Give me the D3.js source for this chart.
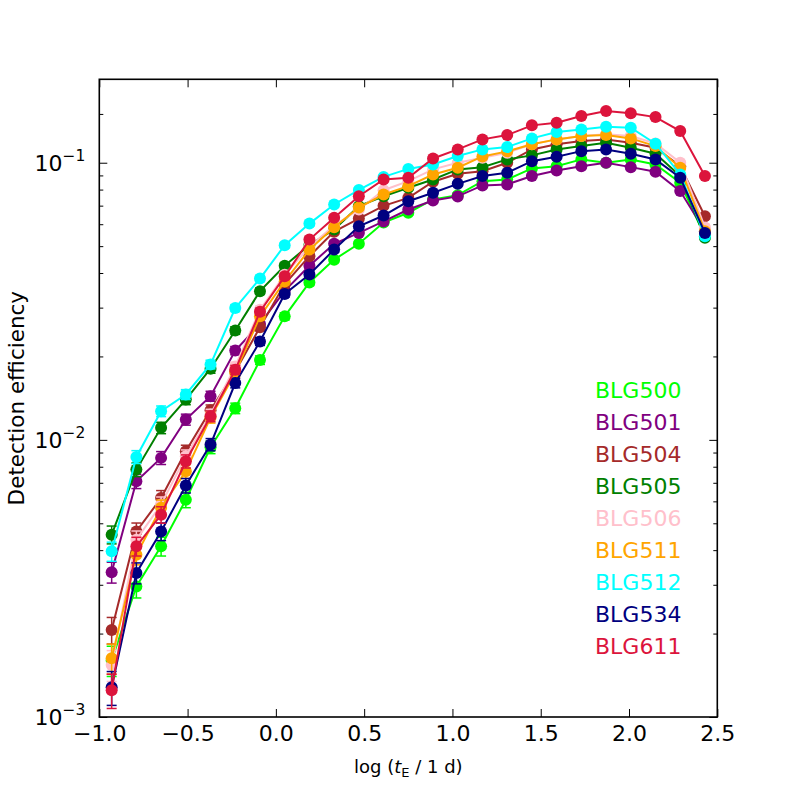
<!DOCTYPE html>
<html><head><meta charset="utf-8">
<script src="https://cdn.jsdelivr.net/npm/d3@7"></script>
<style>body{margin:0;background:#fff}svg{display:block}</style>
</head><body>
<svg id="chart" width="797" height="797"></svg>
<script>
const logTE = [-0.93,-0.79,-0.65,-0.51,-0.37,-0.23,-0.09,0.05,0.19,0.33,0.47,0.61,0.75,0.89,1.03,1.17,1.31,1.45,1.59,1.73,1.87,2.01,2.15,2.29,2.43];
const seriesNames = ["BLG500","BLG501","BLG504","BLG505","BLG506","BLG511","BLG512","BLG534","BLG611"];
const seriesColors = ["#00ff00","#800080","#a52a2a","#008000","#ffc0cb","#ffa500","#00ffff","#000080","#dc143c"];
const effBLG500 = [0.0016,0.00296,0.00413,0.00608,0.0094,0.0130,0.0194,0.0279,0.0370,0.0447,0.0510,0.0608,0.0660,0.0737,0.0764,0.0858,0.0870,0.0954,0.0972,0.1028,0.1000,0.1028,0.0986,0.0847,0.0543];
const effBLG501 = [0.00333,0.00709,0.00861,0.01184,0.01438,0.0210,0.0262,0.0345,0.0425,0.0510,0.0558,0.0614,0.0678,0.0731,0.0756,0.0828,0.0835,0.0895,0.0938,0.0972,0.1000,0.0964,0.0928,0.0790,0.0566];
const effBLG504 = [0.00206,0.00467,0.00617,0.00909,0.0128,0.01765,0.0255,0.0365,0.0460,0.0564,0.0629,0.0699,0.0747,0.0854,0.0913,0.0932,0.1000,0.1117,0.1165,0.1197,0.1214,0.1181,0.1133,0.0972,0.0641];
const effBLG505 = [0.00455,0.00781,0.01105,0.01398,0.01806,0.0248,0.0344,0.0425,0.0505,0.0574,0.0697,0.0757,0.0812,0.0870,0.0946,0.0964,0.1028,0.1063,0.1117,0.1148,0.1181,0.1133,0.1078,0.0895,0.0536];
const effBLG506 = [0.00154,0.00436,0.00584,0.00873,0.01234,0.0184,0.0295,0.0394,0.0498,0.0593,0.0678,0.0796,0.0858,0.0946,0.1000,0.1043,0.1087,0.1165,0.1214,0.1248,0.1266,0.1248,0.1174,0.1000,0.0584];
const effBLG511 = [0.00163,0.00385,0.00569,0.0077,0.01204,0.01746,0.0279,0.0373,0.0486,0.0585,0.0689,0.0768,0.0823,0.0907,0.0959,0.1054,0.1099,0.1165,0.1214,0.1248,0.1258,0.1224,0.1148,0.0959,0.0566];
const effBLG512 = [0.00396,0.00868,0.01269,0.01458,0.01871,0.0299,0.0382,0.0504,0.0603,0.0707,0.0798,0.0889,0.0950,0.0986,0.1057,0.1117,0.1139,0.1224,0.1290,0.1319,0.1349,0.1338,0.1171,0.0907,0.0543];
const effBLG534 = [0.00128,0.00331,0.00467,0.00684,0.00962,0.01603,0.02266,0.0336,0.0395,0.0486,0.0590,0.0645,0.0726,0.0779,0.0839,0.0895,0.0920,0.1013,0.1051,0.1101,0.1117,0.1078,0.1028,0.0883,0.0558];
const effBLG611 = [0.00125,0.00413,0.00537,0.00837,0.01217,0.0179,0.0290,0.0389,0.0528,0.0633,0.0757,0.0870,0.0883,0.1036,0.1117,0.1214,0.1258,0.1364,0.1395,0.1474,0.1537,0.1507,0.1461,0.1301,0.0895];
const simulatedEventsPerBin = 40000;
const xTickValues = [-1,-0.5,0,0.5,1,1.5,2,2.5];
const xTickLabels = ["\u22121.0","\u22120.5","0.0","0.5","1.0","1.5","2.0","2.5"];
const yTickValues = [1e-3,1e-2,1e-1];
const yTickExponents = ["\u22123","\u22122","\u22121"];
const yMinorTicks = [2e-3,3e-3,4e-3,5e-3,6e-3,7e-3,8e-3,9e-3,2e-2,3e-2,4e-2,5e-2,6e-2,7e-2,8e-2,9e-2,0.15];

const allEff = [effBLG500,effBLG501,effBLG504,effBLG505,effBLG506,effBLG511,effBLG512,effBLG534,effBLG611];

const L = 99.3, R = 717.3, T = 79.3, B = 717;
const FONT = "DejaVu Sans, Verdana, sans-serif";
const svg = d3.select("#chart");
svg.append("rect").attr("width",797).attr("height",797).attr("fill","#fff");

const x = d3.scaleLinear().domain([-1, 2.5]).range([L, R]);
const y = d3.scaleLog().domain([1e-3, 0.2]).range([B, T]);

const line = d3.line().x(d => x(d.x)).y(d => y(d.v));

allEff.forEach((vals, si) => {
  const col = seriesColors[si];
  const pts = logTE.map((t, i) => {
    const p = vals[i];
    const e = Math.sqrt(p * (1 - p) / simulatedEventsPerBin);
    return {x: t, v: p, lo: p - e, hi: p + e};
  });
  const g = svg.append("g");
  const eb = g.append("g").attr("stroke", col).attr("stroke-width", 1.5);
  pts.forEach(d => {
    const cx = x(d.x);
    eb.append("line").attr("x1", cx).attr("x2", cx).attr("y1", y(d.lo)).attr("y2", y(d.hi));
    eb.append("line").attr("x1", cx - 5).attr("x2", cx + 5).attr("y1", y(d.lo)).attr("y2", y(d.lo));
    eb.append("line").attr("x1", cx - 5).attr("x2", cx + 5).attr("y1", y(d.hi)).attr("y2", y(d.hi));
  });
  g.append("path").datum(pts).attr("d", line).attr("fill", "none").attr("stroke", col).attr("stroke-width", 2);
  g.selectAll("circle").data(pts).join("circle")
    .attr("cx", d => x(d.x)).attr("cy", d => y(d.v)).attr("r", 6).attr("fill", col);
});

// axes
function styleAxis(g){
  g.select(".domain").remove();
  g.selectAll(".tick line").attr("stroke","#000").attr("stroke-width",1);
  g.selectAll("text").attr("font-family",FONT).attr("fill","#000");
}
const xb = svg.append("g").attr("transform",`translate(0,${B})`)
  .call(d3.axisBottom(x).tickValues(xTickValues).tickSize(-8).tickPadding(8.5).tickFormat((d,i)=>xTickLabels[i]));
styleAxis(xb); xb.selectAll("text").attr("font-size",22);
const xt = svg.append("g").attr("transform",`translate(0,${T})`)
  .call(d3.axisTop(x).tickValues(xTickValues).tickSize(-8).tickFormat(""));
styleAxis(xt);

const yl = svg.append("g").attr("transform",`translate(${L},0)`)
  .call(d3.axisLeft(y).tickValues(yTickValues).tickSize(-8).tickPadding(14).tickFormat(""));
styleAxis(yl);
yl.selectAll(".tick").each(function(d,i){
  const t = d3.select(this).select("text");
  t.attr("font-size",22).attr("dy",null).attr("y",7.5).text(null);
  t.append("tspan").text("10");
  t.append("tspan").attr("font-size",15.5).attr("dy",-10).text(yTickExponents[i]);
});
const ylm = svg.append("g").attr("transform",`translate(${L},0)`)
  .call(d3.axisLeft(y).tickValues(yMinorTicks.filter(v=>v<0.2)).tickSize(-4).tickFormat(""));
styleAxis(ylm);
const yr = svg.append("g").attr("transform",`translate(${R},0)`)
  .call(d3.axisRight(y).tickValues(yTickValues).tickSize(-8).tickFormat(""));
styleAxis(yr);
const yrm = svg.append("g").attr("transform",`translate(${R},0)`)
  .call(d3.axisRight(y).tickValues(yMinorTicks.filter(v=>v<0.2)).tickSize(-4).tickFormat(""));
styleAxis(yrm);

// frame
svg.append("rect").attr("x",L).attr("y",T).attr("width",R-L).attr("height",B-T)
  .attr("fill","none").attr("stroke","#000").attr("stroke-width",1.6);

// axis labels
const xlab = svg.append("text").attr("x",(L+R)/2).attr("y",773).attr("text-anchor","middle")
  .attr("font-family",FONT).attr("font-size",18).attr("fill","#000");
xlab.append("tspan").text("log (");
xlab.append("tspan").attr("font-style","italic").text("t");
xlab.append("tspan").attr("font-size",13).attr("dy",4).text("E");
xlab.append("tspan").attr("dy",-4).text(" / 1 d)");

svg.append("text").attr("transform",`translate(23.5,${(T+B)/2}) rotate(-90)`).attr("text-anchor","middle")
  .attr("font-family",FONT).attr("font-size",21.5).attr("fill","#000").text("Detection efficiency");

// legend
seriesNames.forEach((n,i)=>{
  svg.append("text").attr("x",595).attr("y",398.3 + 31.9*i).attr("font-family",FONT)
    .attr("font-size",22).attr("fill",seriesColors[i]).text(n);
});
</script>
</body></html>
